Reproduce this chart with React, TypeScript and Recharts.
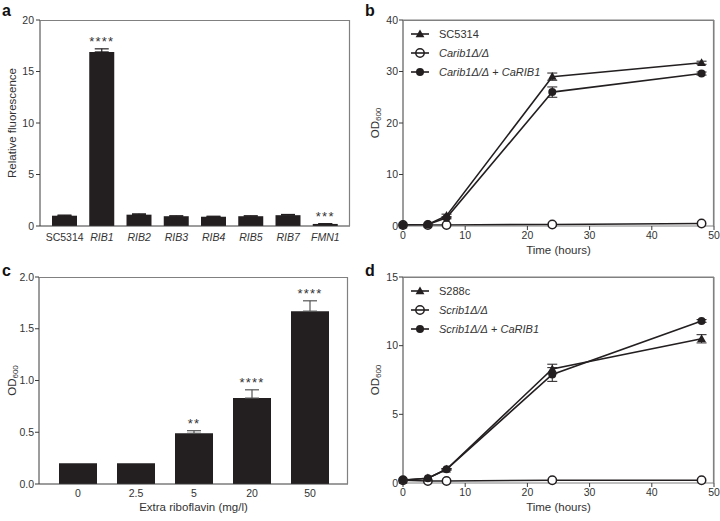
import React from 'react'
import { BarChart, Bar, LineChart, Line, XAxis, YAxis, ErrorBar, LabelList, Legend, ReferenceLine } from 'recharts'

const FONT = '"Liberation Sans", Arial, Helvetica, sans-serif'
const INK = '#231f20'
const AXIS = '#3a3a3a'
const FRAME = '#808080'
const TEXT = '#333'

// a: relative fluorescence per gene
const genes = ['SC5314', 'RIB1', 'RIB2', 'RIB3', 'RIB4', 'RIB5', 'RIB7', 'FMN1']
const fluorescence = [1.0, 16.9, 1.1, 0.95, 0.9, 0.95, 1.05, 0.2]
const fluorescenceErr = [0.06, 0.3, 0.08, 0.04, 0.05, 0.04, 0.07, 0.03]
const fluorescenceStars = ['', '****', '', '', '', '', '', '***']

// b: C. albicans growth
const timesB = [0, 4, 7, 24, 48]
const sc5314 = [0.2, 0.3, 2.0, 29.0, 31.7]
const sc5314Err = [0, 0, 0.3, 0.7, 0.3]
const carib1 = [0.2, 0.2, 0.2, 0.3, 0.5]
const carib1Rib1 = [0.2, 0.3, 1.6, 26.0, 29.6]
const carib1Rib1Err = [0, 0, 0.2, 1.0, 0.3]

// c: OD600 vs extra riboflavin
const riboflavin = ['0', '2.5', '5', '20', '50']
const odRibo = [0.2, 0.2, 0.49, 0.83, 1.67]
const odRiboErr = [0, 0, 0.025, 0.08, 0.1]
const riboStars = ['', '', '**', '****', '****']

// d: S. cerevisiae growth
const timesD = [0, 4, 7, 24, 48]
const s288c = [0.2, 0.35, 1.0, 8.3, 10.5]
const s288cErr = [0, 0, 0.05, 0.35, 0.3]
const scrib1 = [0.2, 0.15, 0.15, 0.2, 0.2]
const scrib1Rib1 = [0.22, 0.35, 1.0, 7.9, 11.8]
const scrib1Rib1Err = [0, 0, 0.05, 0.5, 0.1]

type Part = { text: string; italic?: boolean }
type Marker = 'tri' | 'open' | 'dot'

const legendB: { parts: Part[]; marker: Marker }[] = [
  { parts: [{ text: 'SC5314' }], marker: 'tri' },
  { parts: [{ text: 'Carib1Δ/Δ', italic: true }], marker: 'open' },
  { parts: [{ text: 'Carib1Δ/Δ', italic: true }, { text: ' + ' }, { text: 'CaRIB1', italic: true }], marker: 'dot' },
]
const legendD: { parts: Part[]; marker: Marker }[] = [
  { parts: [{ text: 'S288c' }], marker: 'tri' },
  { parts: [{ text: 'Scrib1Δ/Δ', italic: true }], marker: 'open' },
  { parts: [{ text: 'Scrib1Δ/Δ', italic: true }, { text: ' + ' }, { text: 'CaRIB1', italic: true }], marker: 'dot' },
]

// bar error bars only point upwards; no cap when there is no error
const upErr = (e: number) => (e > 0 ? [0, e] : null)
const dataA = genes.map((g, i) => ({ gene: g, value: fluorescence[i], err: upErr(fluorescenceErr[i]) }))
const dataC = riboflavin.map((r, i) => ({ dose: r, value: odRibo[i], err: upErr(odRiboErr[i]) }))
const dataB = timesB.map((t, i) => ({
  t, wt: sc5314[i], wtErr: sc5314Err[i], ko: carib1[i], comp: carib1Rib1[i], compErr: carib1Rib1Err[i],
}))
const dataD = timesD.map((t, i) => ({
  t, wt: s288c[i], wtErr: s288cErr[i], ko: scrib1[i], comp: scrib1Rib1[i], compErr: scrib1Rib1Err[i],
}))

const tickStyle = { fontSize: 10.5, fill: TEXT, fontFamily: FONT }

// layout of each panel: chart size, margins, axis sizes
const layoutA = { w: 360, h: 260, margin: { top: 20, right: 10, left: 0, bottom: 0 }, yW: 40, xH: 34 }
const layoutLine = { w: 360, h: 260, margin: { top: 20, right: 6, left: 0, bottom: 0 }, yW: 43, xH: 34 }
const layoutC = { w: 360, h: 261, margin: { top: 17, right: 12, left: 0, bottom: 0 }, yW: 39, xH: 37 }

// grey top and right edges of the plot box, as an svg overlay on the chart
function PlotBox({ l }: { l: typeof layoutA }) {
  const x0 = l.margin.left + l.yW
  const y0 = l.margin.top
  const x1 = l.w - l.margin.right
  const y1 = l.h - l.xH - l.margin.bottom
  return (
    <svg width={l.w} height={l.h}
      style={{ position: 'absolute', left: 0, top: 0, zIndex: 10, pointerEvents: 'none', overflow: 'visible' }}>
      <path d={`M${x0},${y0 + 0.5} H${x1 - 0.5} V${y1}`} fill="none" stroke={FRAME} strokeWidth={1.2} />
    </svg>
  )
}

function Triangle(props: any) {
  const { cx, cy, index } = props
  if (cx == null || cy == null) return <g key={index} />
  return <path key={index} d={`M${cx},${cy - 4.6} L${cx + 4.4},${cy + 3.2} L${cx - 4.4},${cy + 3.2} Z`} fill={INK} />
}

function MarkerIcon({ kind, x, y }: { kind: Marker; x: number; y: number }) {
  if (kind === 'tri') return <path d={`M${x},${y - 4.6} L${x + 4.4},${y + 3.2} L${x - 4.4},${y + 3.2} Z`} fill={INK} />
  if (kind === 'open') return <circle cx={x} cy={y} r={4.2} fill="none" stroke={INK} strokeWidth={1.5} />
  return <circle cx={x} cy={y} r={4} fill={INK} />
}

function legendContent(rows: { parts: Part[]; marker: Marker }[]) {
  return () => (
    <div style={{ fontFamily: FONT, fontSize: 11, color: TEXT }}>
      {rows.map((r, i) => (
        <div key={i} style={{ height: 19, display: 'flex', alignItems: 'center' }}>
          <svg width={28} height={12} style={{ display: 'block' }}>
            <line x1={0} y1={6} x2={18} y2={6} stroke={INK} strokeWidth={1.6} />
            <MarkerIcon kind={r.marker} x={9} y={6} />
          </svg>
          <span>
            {r.parts.map((p, j) => (
              <span key={j} style={{ fontStyle: p.italic ? 'italic' : 'normal', whiteSpace: 'pre' }}>{p.text}</span>
            ))}
          </span>
        </div>
      ))}
    </div>
  )
}

function yTitle(cxOffset: number, main: string, sub?: string) {
  return (props: any) => {
    const vb = props.viewBox
    const cx = vb.x + cxOffset
    const cy = vb.y + vb.height / 2
    return (
      <text x={cx} y={cy} transform={`rotate(-90 ${cx} ${cy})`} textAnchor="middle" dominantBaseline="central"
        fontSize={11.5} fill={TEXT} fontFamily={FONT}>
        {main}
        {sub && <tspan fontSize={8} dy={3}>{sub}</tspan>}
      </text>
    )
  }
}

function xTitle(dy: number, text: string) {
  return (props: any) => {
    const vb = props.viewBox
    return (
      <text x={vb.x + vb.width / 2} y={vb.y + dy} textAnchor="middle" dominantBaseline="central"
        fontSize={11.5} fill={TEXT} fontFamily={FONT}>
        {text}
      </text>
    )
  }
}

function starLabel(stars: string[], values: number[], errs: number[]) {
  return (props: any) => {
    const { x, y, width, height, index } = props
    const s = stars[index]
    if (!s) return null
    const pxPer = height / values[index]
    const top = y - errs[index] * pxPer
    return (
      <text x={x + width / 2} y={top - 3} textAnchor="middle" fontSize={13} letterSpacing={1.2}
        fill={TEXT} fontFamily={FONT}>
        {s}
      </text>
    )
  }
}

const GeneTick = (props: any) => {
  const { x, y, payload } = props
  const italic = payload.value !== 'SC5314'
  return (
    <text x={x} y={y} dy="0.71em" textAnchor="middle" {...tickStyle} fontStyle={italic ? 'italic' : 'normal'}>
      {payload.value}
    </text>
  )
}

function PanelLetter({ ch, left, top }: { ch: string; left: number; top: number }) {
  return (
    <div style={{ position: 'absolute', left, top, fontFamily: FONT, fontWeight: 'bold', fontSize: 16, lineHeight: '16px', color: '#111' }}>
      {ch}
    </div>
  )
}

function GrowthChart({ data, yMax, yTicks, legend }: { data: any[]; yMax: number; yTicks: number[]; legend: any }) {
  const l = layoutLine
  return (
    <>
      <LineChart width={l.w} height={l.h} data={data} margin={l.margin}>
        <XAxis dataKey="t" type="number" domain={[0, 50]} ticks={[0, 10, 20, 30, 40, 50]} height={l.xH}
          tick={tickStyle} tickSize={4} tickMargin={2} tickLine={{ stroke: AXIS }} axisLine={{ stroke: FRAME }}
          label={{ content: xTitle(24, 'Time (hours)') }} />
        <YAxis domain={[0, yMax]} ticks={yTicks} width={l.yW} tick={tickStyle} tickSize={4} tickMargin={1}
          tickLine={{ stroke: AXIS }} axisLine={{ stroke: AXIS }} label={{ content: yTitle(15, 'OD', '600') }} />
        <ReferenceLine y={yMax} stroke={FRAME} ifOverflow="visible" />
        <ReferenceLine x={50} stroke={FRAME} ifOverflow="visible" />
        <Line dataKey="ko" stroke={INK} strokeWidth={1.6} isAnimationActive={false}
          dot={{ r: 4.2, fill: '#fff', stroke: INK, strokeWidth: 1.5 }} />
        <Line dataKey="comp" stroke={INK} strokeWidth={1.6} isAnimationActive={false}
          dot={{ r: 4, fill: INK, stroke: INK, strokeWidth: 0 }}>
          <ErrorBar dataKey="compErr" width={5} stroke={INK} strokeWidth={1} direction="y" />
        </Line>
        <Line dataKey="wt" stroke={INK} strokeWidth={1.6} isAnimationActive={false} dot={Triangle}>
          <ErrorBar dataKey="wtErr" width={5} stroke={INK} strokeWidth={1} direction="y" />
        </Line>
        <Legend layout="horizontal" align="center" verticalAlign="middle" content={legendContent(legend)}
          wrapperStyle={{ left: 51, top: 24, width: 'auto', height: 'auto' }} />
      </LineChart>
      <PlotBox l={l} />
    </>
  )
}

export default function App() {
  return (
    <div style={{ position: 'absolute', left: 0, top: 0, width: 720, height: 521, background: '#fff', overflow: 'hidden' }}>
      <div style={{ position: 'absolute', left: 0, top: 0, width: layoutA.w, height: layoutA.h }}>
        <BarChart width={layoutA.w} height={layoutA.h} data={dataA} margin={layoutA.margin}>
          <XAxis dataKey="gene" height={layoutA.xH} tick={<GeneTick />} tickLine={false} tickSize={4} tickMargin={4}
            axisLine={{ stroke: AXIS }} padding={{ left: 6, right: 6 }} interval={0} />
          <YAxis domain={[0, 20]} ticks={[0, 5, 10, 15, 20]} width={layoutA.yW} tick={tickStyle} tickSize={4} tickMargin={2}
            tickLine={{ stroke: AXIS }} axisLine={{ stroke: AXIS }}
            label={{ content: yTitle(12, 'Relative fluorescence') }} />
          <Bar dataKey="value" fill={INK} barSize={25} isAnimationActive={false}>
            <ErrorBar dataKey="err" width={7} stroke={INK} strokeWidth={1.2} direction="y" />
            <LabelList dataKey="value" content={starLabel(fluorescenceStars, fluorescence, fluorescenceErr)} />
          </Bar>
        </BarChart>
        <PlotBox l={layoutA} />
      </div>

      <div style={{ position: 'absolute', left: 360, top: 0, width: layoutLine.w, height: layoutLine.h }}>
        <GrowthChart data={dataB} yMax={40} yTicks={[0, 10, 20, 30, 40]} legend={legendB} />
      </div>

      <div style={{ position: 'absolute', left: 0, top: 260, width: layoutC.w, height: layoutC.h }}>
        <BarChart width={layoutC.w} height={layoutC.h} data={dataC} margin={layoutC.margin}>
          <XAxis dataKey="dose" height={layoutC.xH} tick={tickStyle} tickLine={false} tickSize={4} tickMargin={2}
            axisLine={{ stroke: AXIS }} padding={{ left: 10, right: 9 }}
            label={{ content: xTitle(23, 'Extra riboflavin (mg/l)') }} />
          <YAxis domain={[0, 2]} ticks={[0, 0.5, 1, 1.5, 2]} tickFormatter={(v: number) => v.toFixed(1)} width={layoutC.yW}
            tick={tickStyle} tickSize={4} tickMargin={1} tickLine={{ stroke: AXIS }} axisLine={{ stroke: AXIS }}
            label={{ content: yTitle(12, 'OD', '600') }} />
          <Bar dataKey="value" fill={INK} barSize={38} isAnimationActive={false}>
            <ErrorBar dataKey="err" width={7} stroke="#555" strokeWidth={1.2} direction="y" />
            <LabelList dataKey="value" content={starLabel(riboStars, odRibo, odRiboErr)} />
          </Bar>
        </BarChart>
        <PlotBox l={layoutC} />
      </div>

      <div style={{ position: 'absolute', left: 360, top: 257, width: layoutLine.w, height: layoutLine.h }}>
        <GrowthChart data={dataD} yMax={15} yTicks={[0, 5, 10, 15]} legend={legendD} />
      </div>

      <PanelLetter ch="a" left={2} top={3} />
      <PanelLetter ch="b" left={365} top={3} />
      <PanelLetter ch="c" left={2} top={263} />
      <PanelLetter ch="d" left={365} top={263} />
    </div>
  )
}
